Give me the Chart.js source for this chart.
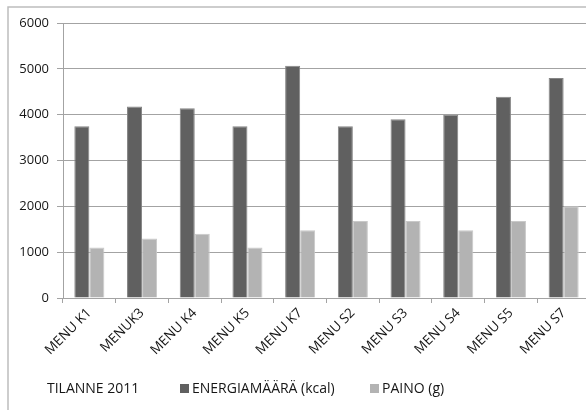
<!DOCTYPE html>
<html>
<head>
<meta charset="utf-8">
<script src="https://cdn.jsdelivr.net/npm/chart.js@4/dist/chart.umd.min.js"></script>
<style>
  html, body { margin: 0; padding: 0; background: #fff; overflow: hidden; }
  #wrap { position: relative; width: 590px; height: 410px; }
</style>
</head>
<body>
<div id="wrap"><canvas id="c"></canvas></div>
<script>
// Menus and their values
const categories = ['MENU K1', 'MENUK3', 'MENU K4', 'MENU K5', 'MENU K7', 'MENU S2', 'MENU S3', 'MENU S4', 'MENU S5', 'MENU S7'];
const energia = [3750, 4180, 4140, 3750, 5070, 3750, 3900, 4000, 4390, 4800];
const paino = [1100, 1300, 1400, 1100, 1480, 1680, 1680, 1480, 1680, 2000];
const seriesNames = ['ENERGIAMÄÄRÄ (kcal)', 'PAINO (g)'];
const yTicks = [0, 1000, 2000, 3000, 4000, 5000, 6000];
const heading = 'TILANNE 2011';

const FONT = '"Open Sans", "Liberation Sans", sans-serif';
const TEXT = '#161616';
const GRID = '#a3a3a3';

// Outer frame of the chart object
const framePlugin = {
  id: 'frame',
  beforeDraw(chart) {
    const ctx = chart.ctx;
    ctx.save();
    ctx.strokeStyle = '#bdbdbd';
    ctx.lineWidth = 1.5;
    ctx.beginPath();
    ctx.moveTo(8, 420);
    ctx.lineTo(8, 7);
    ctx.lineTo(600, 7);
    ctx.stroke();
    ctx.restore();
  }
};

// Bottom row: heading on the left, series keys after it
const legendRow = {
  id: 'legendRow',
  afterDraw(chart) {
    const ctx = chart.ctx;
    const baseY = 393;
    ctx.save();
    ctx.font = '14px ' + FONT;
    ctx.fillStyle = TEXT;
    ctx.textBaseline = 'alphabetic';
    ctx.textAlign = 'left';
    ctx.fillText(heading, 47, baseY);
    const starts = [180, 370];
    chart.data.datasets.forEach((ds, i) => {
      const x = starts[i];
      ctx.fillStyle = ds.backgroundColor;
      ctx.fillRect(x, baseY - 9, 9, 9);
      ctx.fillStyle = TEXT;
      ctx.fillText(ds.label, x + 12, baseY);
    });
    ctx.restore();
  }
};

new Chart(document.getElementById('c'), {
  type: 'bar',
  data: {
    labels: categories,
    datasets: [
      { label: seriesNames[0], data: energia, backgroundColor: '#606060', borderColor: '#858585', borderWidth: 1 },
      { label: seriesNames[1], data: paino, backgroundColor: '#b3b3b3', borderColor: '#c9c9c9', borderWidth: 1 }
    ]
  },
  options: {
    responsive: true,
    maintainAspectRatio: false,
    animation: false,
    layout: { padding: { left: 0, top: 23, right: 0, bottom: 52 } },
    datasets: { bar: { categoryPercentage: 0.57, barPercentage: 1.0 } },
    plugins: {
      legend: { display: false },
      title: { display: false },
      tooltip: { enabled: false }
    },
    scales: {
      x: {
        grid: { display: true, offset: true, drawOnChartArea: false, drawTicks: true, tickLength: 5, color: GRID },
        border: { display: true, color: GRID, width: 1 },
        ticks: {
          minRotation: 45, maxRotation: 45, autoSkip: false,
          color: TEXT, font: { family: FONT, size: 13.5 }, padding: 2
        },
        afterFit(scale) { scale.height = 60; }
      },
      y: {
        min: 0, max: 6000,
        afterBuildTicks(scale) { scale.ticks = yTicks.map(v => ({ value: v })); },
        grid: { color: GRID, lineWidth: 1, tickLength: 6, drawTicks: true },
        border: { display: true, color: GRID, width: 1 },
        ticks: {
          color: TEXT, font: { family: FONT, size: 13 }, padding: 8,
          callback: v => String(v)
        },
        afterFit(scale) { scale.width = 63; }
      }
    }
  },
  plugins: [framePlugin, legendRow]
});
</script>
</body>
</html>
